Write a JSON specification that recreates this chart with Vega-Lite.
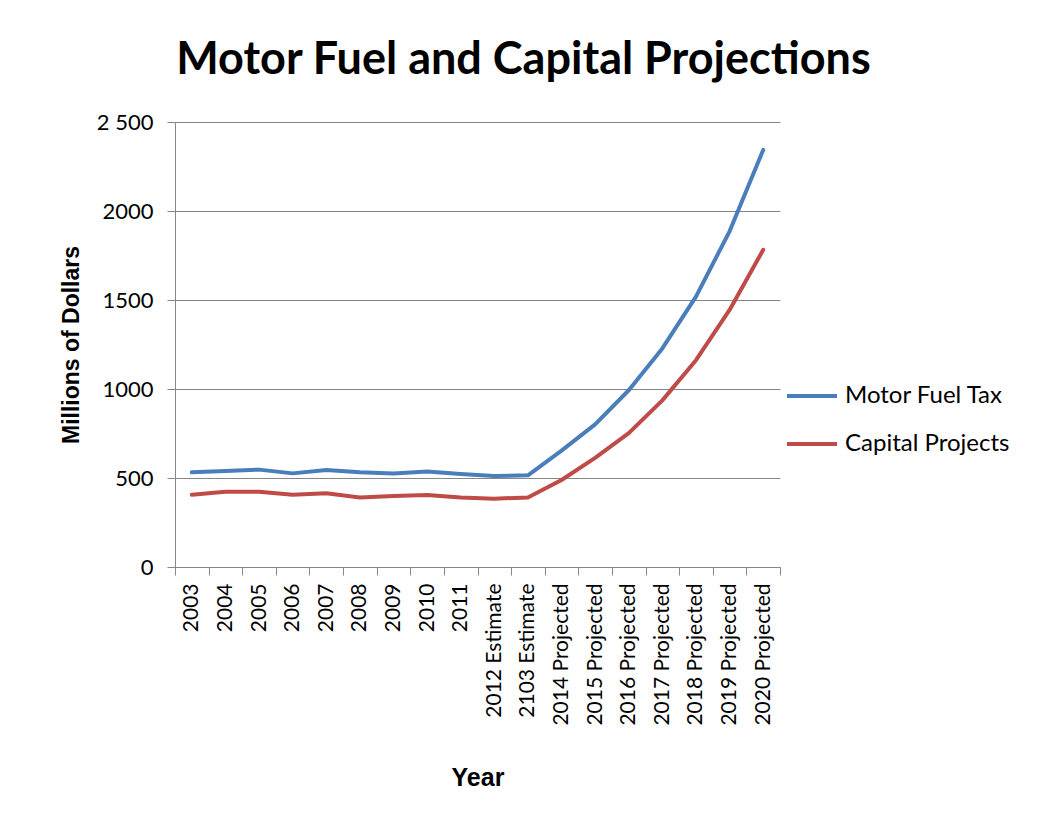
{
  "$schema": "https://vega.github.io/schema/vega-lite/v6.json",
  "width": 605,
  "height": 445,
  "autosize": {"type": "none"},
  "padding": {"left": 175, "top": 122, "right": 265, "bottom": 268},
  "background": "white",
  "title": {
    "text": "Motor Fuel and Capital Projections",
    "font": "Lato",
    "fontSize": 45,
    "fontWeight": "bold",
    "color": "black",
    "anchor": "middle",
    "frame": "group",
    "dx": 46,
    "offset": 28
  },
  "data": {
    "values": [
      {"year": "2003", "series": "Motor Fuel Tax", "value": 532},
      {"year": "2004", "series": "Motor Fuel Tax", "value": 540},
      {"year": "2005", "series": "Motor Fuel Tax", "value": 547},
      {"year": "2006", "series": "Motor Fuel Tax", "value": 526},
      {"year": "2007", "series": "Motor Fuel Tax", "value": 545},
      {"year": "2008", "series": "Motor Fuel Tax", "value": 532},
      {"year": "2009", "series": "Motor Fuel Tax", "value": 525},
      {"year": "2010", "series": "Motor Fuel Tax", "value": 536},
      {"year": "2011", "series": "Motor Fuel Tax", "value": 523},
      {"year": "2012 Estimate", "series": "Motor Fuel Tax", "value": 511},
      {"year": "2103 Estimate", "series": "Motor Fuel Tax", "value": 515},
      {"year": "2014 Projected", "series": "Motor Fuel Tax", "value": 654},
      {"year": "2015 Projected", "series": "Motor Fuel Tax", "value": 801},
      {"year": "2016 Projected", "series": "Motor Fuel Tax", "value": 993},
      {"year": "2017 Projected", "series": "Motor Fuel Tax", "value": 1228},
      {"year": "2018 Projected", "series": "Motor Fuel Tax", "value": 1519},
      {"year": "2019 Projected", "series": "Motor Fuel Tax", "value": 1886},
      {"year": "2020 Projected", "series": "Motor Fuel Tax", "value": 2343},
      {"year": "2003", "series": "Capital Projects", "value": 406},
      {"year": "2004", "series": "Capital Projects", "value": 423},
      {"year": "2005", "series": "Capital Projects", "value": 423},
      {"year": "2006", "series": "Capital Projects", "value": 406},
      {"year": "2007", "series": "Capital Projects", "value": 414},
      {"year": "2008", "series": "Capital Projects", "value": 391},
      {"year": "2009", "series": "Capital Projects", "value": 399},
      {"year": "2010", "series": "Capital Projects", "value": 404},
      {"year": "2011", "series": "Capital Projects", "value": 391},
      {"year": "2012 Estimate", "series": "Capital Projects", "value": 384},
      {"year": "2103 Estimate", "series": "Capital Projects", "value": 391},
      {"year": "2014 Projected", "series": "Capital Projects", "value": 489},
      {"year": "2015 Projected", "series": "Capital Projects", "value": 613},
      {"year": "2016 Projected", "series": "Capital Projects", "value": 752},
      {"year": "2017 Projected", "series": "Capital Projects", "value": 936},
      {"year": "2018 Projected", "series": "Capital Projects", "value": 1162},
      {"year": "2019 Projected", "series": "Capital Projects", "value": 1444},
      {"year": "2020 Projected", "series": "Capital Projects", "value": 1782}
    ]
  },
  "mark": {"type": "line", "strokeWidth": 4, "strokeJoin": "round", "strokeCap": "round"},
  "encoding": {
    "x": {
      "field": "year",
      "type": "nominal",
      "sort": null,
      "bandPosition": 0.5,
      "scale": {"type": "band", "paddingInner": 0, "paddingOuter": 0},
      "axis": {
        "title": "Year",
        "titleFont": "Liberation Sans",
        "titleFontSize": 25,
        "titleFontWeight": "bold",
        "titleColor": "black",
        "titlePadding": 40,
        "labelFont": "Lato",
        "labelFontSize": 21,
        "labelColor": "black",
        "labelAngle": 270,
        "labelAlign": "right",
        "labelBaseline": "middle",
        "labelPadding": 8,
        "tickBand": "extent",
        "tickSize": 8,
        "tickColor": "#868686",
        "domainColor": "#868686",
        "grid": false,
        "labelOverlap": false
      }
    },
    "y": {
      "field": "value",
      "type": "quantitative",
      "scale": {"domain": [0, 2500], "nice": false},
      "axis": {
        "title": "Millions of Dollars",
        "titleFont": "Liberation Sans",
        "titleFontSize": 23,
        "titleFontWeight": "bold",
        "titleColor": "black",
        "titlePadding": 13,
        "values": [0, 500, 1000, 1500, 2000, 2500],
        "labelExpr": "datum.value == 2500 ? '2 500' : datum.label",
        "format": "d",
        "labelFont": "Lato",
        "labelFontSize": 22,
        "labelColor": "black",
        "labelPadding": 14,
        "tickSize": 8,
        "tickColor": "#868686",
        "domainColor": "#868686",
        "gridColor": "#868686",
        "gridWidth": 1
      }
    },
    "color": {
      "field": "series",
      "type": "nominal",
      "sort": ["Motor Fuel Tax", "Capital Projects"],
      "scale": {"domain": ["Motor Fuel Tax", "Capital Projects"], "range": ["#4A7EBB", "#BE4B48"]},
      "legend": {
        "title": null,
        "orient": "none",
        "legendX": 610,
        "legendY": 247,
        "symbolType": "stroke",
        "symbolSize": 2500,
        "symbolStrokeWidth": 4,
        "labelFont": "Lato",
        "labelFontSize": 24,
        "labelColor": "black",
        "labelOffset": 6,
        "labelLimit": 400,
        "rowPadding": 9
      }
    }
  },
  "config": {"view": {"stroke": null}}
}
